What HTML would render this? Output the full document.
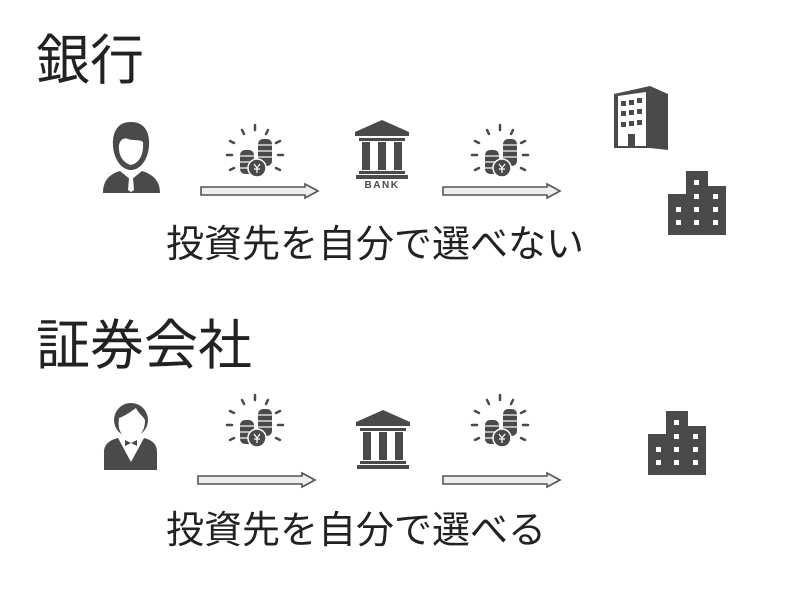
<!DOCTYPE html>
<html><head><meta charset="utf-8"><style>
html,body{margin:0;padding:0;background:#fff;}
svg{display:block}
text{font-family:"Liberation Sans","Noto Sans CJK JP",sans-serif;}
</style></head><body>
<svg width="800" height="600" viewBox="0 0 800 600" xmlns="http://www.w3.org/2000/svg">
<defs>
<g id="coins">
 <g stroke="#4a4a4a" stroke-width="2.5" stroke-linecap="round">
  <line x1="35" y1="5" x2="35" y2="10"/>
  <line x1="22" y1="10" x2="24" y2="14"/>
  <line x1="48" y1="10" x2="46" y2="14"/>
  <line x1="10" y1="21" x2="14" y2="23"/>
  <line x1="60" y1="21" x2="56" y2="23"/>
  <line x1="7" y1="35" x2="12" y2="35"/>
  <line x1="58" y1="35" x2="63" y2="35"/>
  <line x1="10" y1="50" x2="14" y2="48"/>
  <line x1="60" y1="50" x2="56" y2="48"/>
 </g>
 <g fill="#4a4a4a">
  <rect x="38" y="19" width="14" height="27" rx="5"/>
  <rect x="20" y="30" width="14" height="24" rx="5"/>
 </g>
 <g stroke="#fff" stroke-width="1.2">
  <line x1="38" y1="25" x2="52" y2="25"/><line x1="38" y1="31" x2="52" y2="31"/><line x1="38" y1="37" x2="52" y2="37"/>
  <line x1="20" y1="36" x2="34" y2="36"/><line x1="20" y1="42" x2="34" y2="42"/><line x1="20" y1="48" x2="34" y2="48"/>
 </g>
 <circle cx="37" cy="48" r="9" fill="#4a4a4a" stroke="#fff" stroke-width="1.5"/>
 <path d="M34 44 L37 48 L40 44 M37 48 V53 M34 49 H40" stroke="#fff" stroke-width="1.2" fill="none"/>
</g>
<g id="arrow">
 <path d="M1 3 H105 V0 L118 7 L105 14 V11 H1 Z" fill="#eeeeee" stroke="#555" stroke-width="1.6"/>
</g>
<g id="bank">
 <path d="M27 0 L54 12 V16 H0 V12 Z" fill="#4a4a4a"/>
 <rect x="4" y="18" width="46" height="3" fill="#4a4a4a"/>
 <rect x="7" y="22" width="8" height="28" fill="#4a4a4a"/>
 <rect x="23" y="22" width="8" height="28" fill="#4a4a4a"/>
 <rect x="39" y="22" width="8" height="28" fill="#4a4a4a"/>
 <rect x="4" y="51" width="46" height="3" fill="#4a4a4a"/>
 <rect x="1" y="55" width="52" height="4" fill="#4a4a4a"/>
</g>
<g id="bld">
 <path d="M18 0 H40 V15 H58 V64 H0 V23 H18 Z" fill="#4a4a4a"/>
 <g fill="#fff">
  <rect x="26" y="9" width="5" height="5"/>
  <rect x="26" y="23" width="5" height="5"/><rect x="45" y="23" width="5" height="5"/>
  <rect x="8" y="36" width="5" height="5"/><rect x="26" y="36" width="5" height="5"/><rect x="45" y="36" width="5" height="5"/>
  <rect x="8" y="49" width="5" height="5"/><rect x="26" y="49" width="5" height="5"/><rect x="45" y="49" width="5" height="5"/>
 </g>
</g>
</defs>

<text x="36" y="79" font-size="54" fill="#222">銀行</text>

<!-- person 1 -->
<g fill="#4a4a4a">
 <path d="M131 122 C117 122 112 133 113 146 C114 160 122 170 131 170 C140 170 148 160 149 146 C150 133 145 122 131 122 Z"/>
 <path d="M103 193 C103 180 110 174 120 171 L131 180 L142 171 C152 174 160 180 160 193 Z"/>
</g>
<path d="M119 145 C120 140 124 137 128 139 C133 141 139 139 143 142 C144 155 139 163 131 165 C123 163 118 155 119 145Z" fill="#fff"/>
<path d="M129 178 L133 178 L134 190 L131 192 L128 190 Z" fill="#fff"/>

<use href="#coins" x="220" y="120"/>
<use href="#arrow" x="200" y="184"/>
<use href="#bank" x="355" y="120"/>
<text x="382" y="188" font-size="10" text-anchor="middle" fill="#4a4a4a" font-weight="bold" letter-spacing="1.5">BANK</text>
<use href="#coins" x="465" y="120"/>
<use href="#arrow" x="442" y="184"/>

<!-- office -->
<path d="M614 94 L650 86 L668 94 V150 L650 148 L614 148 Z" fill="#4a4a4a"/>
<path d="M618 96 L646 92 V146 L618 146 Z" fill="#fff"/>
<g fill="#4a4a4a">
 <rect x="621" y="101" width="5" height="5"/><rect x="629" y="100" width="5" height="5"/><rect x="637" y="98" width="5" height="5"/>
 <rect x="621" y="111" width="5" height="5"/><rect x="629" y="110" width="5" height="5"/><rect x="637" y="109" width="5" height="5"/>
 <rect x="621" y="122" width="5" height="5"/><rect x="629" y="121" width="5" height="5"/><rect x="637" y="120" width="5" height="5"/>
 <rect x="628" y="134" width="7" height="13"/>
</g>
<use href="#bld" x="668" y="171"/>

<text x="166" y="257" font-size="38" fill="#222">投資先を自分で選べない</text>

<text x="36" y="364" font-size="54" fill="#222">証券会社</text>

<!-- person 2 -->
<g fill="#4a4a4a">
 <circle cx="131" cy="420" r="17"/>
 <path d="M104 470 V452 C104 444 110 440 118 438 L131 462 L144 438 C152 440 157 444 157 452 V470 Z"/>
</g>
<path d="M119 418 C125 416 132 411 136 408 C139 414 143 416 145 420 C145 432 139 438 131 438 C123 438 117 432 119 418Z" fill="#fff"/>
<path d="M125 440 L131 443 L137 440 V446 L131 443 L125 446 Z" fill="#4a4a4a"/>

<use href="#coins" x="220" y="390"/>
<use href="#arrow" x="197" y="473"/>
<use href="#bank" x="356" y="410"/>
<use href="#coins" x="465" y="390"/>
<use href="#arrow" x="442" y="473"/>
<use href="#bld" x="648" y="411"/>

<text x="166" y="543" font-size="38" fill="#222">投資先を自分で選べる</text>
</svg>
</body></html>
